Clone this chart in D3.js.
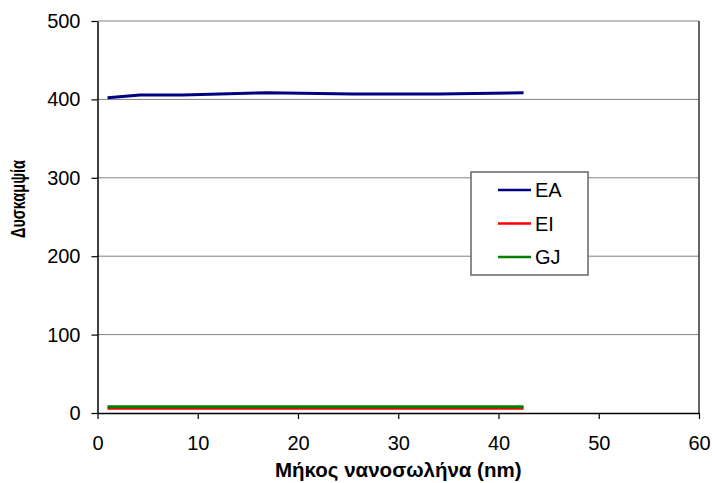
<!DOCTYPE html>
<html>
<head>
<meta charset="utf-8">
<script src="https://cdn.jsdelivr.net/npm/d3@7"></script>
<style>
  body { margin: 0; background: #fff; }
  text { font-family: "Liberation Sans", Arial, sans-serif; }
</style>
</head>
<body>
<svg id="chart" width="712" height="483"></svg>
<script>
// Stiffness values vs. nanotube length
const lengths = [1, 4.25, 8.5, 17, 25.5, 34, 42.5];
const eaValues = [402, 405.5, 405.5, 408.5, 407, 407, 408.5];
const eiValues = [6, 6, 6, 6, 6, 6, 6];
const gjValues = [8, 8, 8, 8, 8, 8, 8];
const seriesNames = ["EA", "EI", "GJ"];
const seriesColors = ["#000080", "#ff0000", "#008000"];
const xTicks = [0, 10, 20, 30, 40, 50, 60];
const yTicks = [0, 100, 200, 300, 400, 500];

const svg = d3.select("#chart");
const margin = { left: 97.5, right: 13, top: 21, bottom: 70 };
const W = 712, H = 483;

const x = d3.scaleLinear().domain([0, 60]).range([margin.left, W - margin.right]);
const y = d3.scaleLinear().domain([0, 500]).range([H - margin.bottom, margin.top]);

// horizontal gridlines
svg.append("g")
  .selectAll("line")
  .data(yTicks.filter(d => d > 0))
  .join("line")
  .attr("x1", x(0)).attr("x2", x(60))
  .attr("y1", d => y(d)).attr("y2", d => y(d))
  .attr("stroke", "#808080").attr("stroke-width", 1);

// right border
svg.append("line")
  .attr("x1", x(60)).attr("x2", x(60))
  .attr("y1", y(0)).attr("y2", y(500))
  .attr("stroke", "#333").attr("stroke-width", 1.5);

// axes
const xAxis = svg.append("g")
  .attr("transform", `translate(0,${y(0)})`)
  .call(d3.axisBottom(x).tickValues(xTicks).tickSize(6).tickPadding(17).tickSizeOuter(0));
const yAxis = svg.append("g")
  .attr("transform", `translate(${x(0)},0)`)
  .call(d3.axisLeft(y).tickValues(yTicks).tickSize(6).tickPadding(11).tickSizeOuter(0));

[xAxis, yAxis].forEach(g => {
  g.select(".domain").attr("stroke", "#000").attr("stroke-width", 1.5);
  g.selectAll(".tick line").attr("stroke", "#000").attr("stroke-width", 1.2);
  g.selectAll(".tick text")
    .attr("fill", "#000")
    .style("font-size", "20px")
    .style("font-family", "'Liberation Sans', Arial, sans-serif");
});

// series lines
const seriesData = [eaValues, eiValues, gjValues];
const line = d3.line().x((d, i) => x(lengths[i])).y(d => y(d));
[0, 1, 2].forEach(k => {
  svg.append("path")
    .datum(seriesData[k])
    .attr("fill", "none")
    .attr("stroke", seriesColors[k])
    .attr("stroke-width", 3)
    .attr("stroke-linejoin", "round")
    .attr("d", line);
});

// axis titles
svg.append("text")
  .attr("x", (x(0) + x(60)) / 2)
  .attr("y", 477)
  .attr("text-anchor", "middle")
  .style("font-size", "20.5px")
  .style("font-weight", "bold")
  .text("Μήκος νανοσωλήνα (nm)");

svg.append("text")
  .attr("transform", "translate(25,199) rotate(-90)")
  .attr("text-anchor", "middle")
  .attr("textLength", 78)
  .attr("lengthAdjust", "spacingAndGlyphs")
  .style("font-size", "20px")
  .style("font-weight", "bold")
  .text("Δυσκαμψία");

// legend
const legend = svg.append("g").attr("transform", "translate(471,172)");
legend.append("rect")
  .attr("width", 117).attr("height", 103)
  .attr("fill", "#fff").attr("stroke", "#666").attr("stroke-width", 1.5);
seriesNames.forEach((name, i) => {
  const cy = 18 + i * 33.5;
  legend.append("line")
    .attr("x1", 27).attr("x2", 60)
    .attr("y1", cy).attr("y2", cy)
    .attr("stroke", seriesColors[i]).attr("stroke-width", 2.5);
  legend.append("text")
    .attr("x", 64).attr("y", cy + 7)
    .style("font-size", "20px")
    .text(name);
});
</script>
</body>
</html>
